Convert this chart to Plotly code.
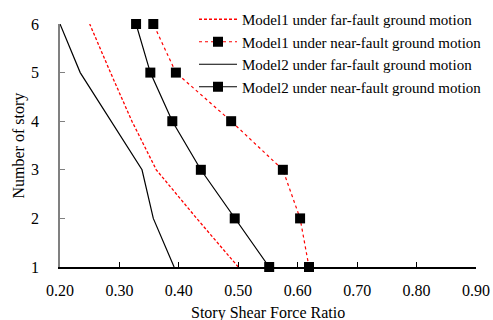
import plotly.graph_objects as go

stories = [1, 2, 3, 4, 5, 6]
model1_far = [0.500, 0.430, 0.362, 0.321, 0.285, 0.250]
model1_near = [0.619, 0.604, 0.575, 0.488, 0.395, 0.357]
model2_far = [0.392, 0.357, 0.338, 0.286, 0.234, 0.200]
model2_near = [0.552, 0.494, 0.437, 0.389, 0.352, 0.328]
x_ticks = [0.2, 0.3, 0.4, 0.5, 0.6, 0.7, 0.8, 0.9]
y_ticks = [1, 2, 3, 4, 5, 6]

FONT = "Liberation Serif"

W, H = 493, 320
L, R, T, B = 60, 17, 24, 53
PW, PH = W - L - R, H - T - B

fig = go.Figure()
fig.add_trace(go.Scatter(x=model1_far, y=stories, mode="lines", cliponaxis=False,
                         name="Model1 under far-fault ground motion",
                         line=dict(color="#ff0000", width=1.3, dash="3px,2px")))
fig.add_trace(go.Scatter(x=model1_near, y=stories, mode="lines+markers", cliponaxis=False,
                         name="Model1 under near-fault ground motion",
                         line=dict(color="#ff0000", width=1.2, dash="3px,3px"),
                         marker=dict(symbol="square", size=10, color="black")))
fig.add_trace(go.Scatter(x=model2_far, y=stories, mode="lines", cliponaxis=False,
                         name="Model2 under far-fault ground motion",
                         line=dict(color="black", width=1.2)))
fig.add_trace(go.Scatter(x=model2_near, y=stories, mode="lines+markers", cliponaxis=False,
                         name="Model2 under near-fault ground motion",
                         line=dict(color="black", width=1.2),
                         marker=dict(symbol="square", size=10, color="black")))

fig.update_layout(
    width=W, height=H,
    margin=dict(l=L, r=R, t=T, b=B, autoexpand=False),
    paper_bgcolor="white", plot_bgcolor="white",
    font=dict(family=FONT, size=16, color="black"),
    showlegend=True,
    legend=dict(x=(194 - L) / PW, y=(T + PH - 3) / PH, xanchor="left", yanchor="top",
                bgcolor="rgba(0,0,0,0)", font=dict(family=FONT, size=15),
                tracegroupgap=0, itemwidth=38),
    xaxis=dict(range=[0.2, 0.9], tickvals=x_ticks,
               ticktext=[f"{v:.2f}" for v in x_ticks],
               showgrid=False, zeroline=False, showline=True,
               linecolor="black", linewidth=1.5, ticks="inside",
               ticklen=5, tickcolor="black", tickfont=dict(size=16),
               ticklabelstandoff=8, automargin=False),
    yaxis=dict(range=[1, 6], tickvals=y_ticks, showgrid=False, zeroline=False,
               showline=True, linecolor="#808080", linewidth=1.5,
               ticks="inside", ticklen=5, tickcolor="#808080",
               tickfont=dict(size=16), ticklabelstandoff=16, automargin=False),
    annotations=[
        dict(text="Story Shear Force Ratio", xref="paper", yref="paper",
             x=0.5, y=-(313 - (T + PH)) / PH, xanchor="center", yanchor="middle",
             showarrow=False, font=dict(family=FONT, size=16)),
        dict(text="Number of story", xref="paper", yref="paper", textangle=-90,
             x=(18 - L) / PW, y=0.5, xanchor="center", yanchor="middle",
             showarrow=False, font=dict(family=FONT, size=16)),
    ],
)

fig.write_html("out.html", config={"displayModeBar": False},
               post_script="document.body.style.margin='0';document.body.style.overflow='hidden';")
